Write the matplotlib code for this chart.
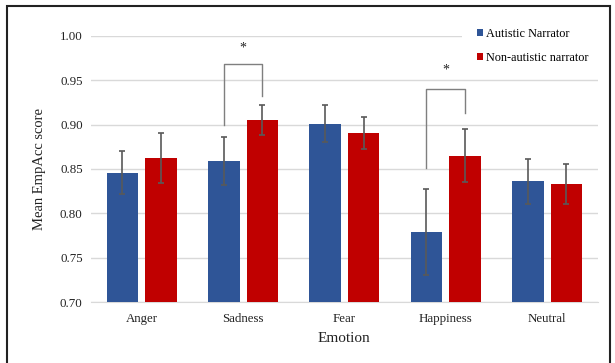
import matplotlib
matplotlib.use("Agg")
import matplotlib.pyplot as plt
import numpy as np
from matplotlib.patches import Rectangle

plt.rcParams['font.family'] = ['Liberation Serif', 'DejaVu Serif']

# categories and values
emotions = ['Anger', 'Sadness', 'Fear', 'Happiness', 'Neutral']
autistic = [0.846, 0.859, 0.901, 0.779, 0.836]
autistic_err = [0.024, 0.027, 0.021, 0.048, 0.025]
non_autistic = [0.862, 0.905, 0.891, 0.865, 0.833]
non_autistic_err = [0.028, 0.017, 0.018, 0.030, 0.023]

# significance brackets: (category index, left leg bottom, right leg bottom, top, star y)
brackets = [(1, 0.900, 0.932, 0.968, 0.986),
            (3, 0.851, 0.913, 0.940, 0.962)]

blue = '#2F5597'
red = '#C00000'

fig = plt.figure(figsize=(6.15, 3.63), dpi=100)
ax = fig.add_axes([0.148, 0.168, 0.824, 0.733])

x = np.arange(len(emotions))
width = 0.31
off = 0.19
ekw = dict(ecolor='#595959', elinewidth=1.2, capsize=2.5, capthick=1.2)
ax.bar(x - off, autistic, width, yerr=autistic_err, color=blue,
       label='Autistic Narrator', error_kw=ekw, zorder=3)
ax.bar(x + off, non_autistic, width, yerr=non_autistic_err, color=red,
       label='Non-autistic narrator', error_kw=ekw, zorder=3)

for i, yl, yr, top, ys in brackets:
    ax.plot([i - off, i - off, i + off, i + off], [yl, top, top, yr],
            color='#7f7f7f', lw=1.0, zorder=4)
    ax.text(i, ys, '*', ha='center', va='center', fontsize=10, color='#222222')

ax.set_ylim(0.70, 1.00)
ax.set_xlim(-0.5, 4.5)
ax.set_yticks(np.arange(0.70, 1.001, 0.05))
ax.set_yticklabels([f'{v:.2f}' for v in np.arange(0.70, 1.001, 0.05)])
ax.set_xticks(x)
ax.set_xticklabels(emotions)
ax.tick_params(length=0, labelsize=9.3, colors='#222222', pad=6)
ax.tick_params(axis='x', pad=8)
ax.grid(axis='y', color='#d9d9d9', lw=1, zorder=0)
for s in ['top', 'right', 'left']:
    ax.spines[s].set_visible(False)
ax.spines['bottom'].set_color('#d9d9d9')

ax.set_ylabel('Mean EmpAcc score', fontsize=10.5, color='#222222', labelpad=10)
ax.set_xlabel('Emotion', fontsize=11, color='#222222', labelpad=5)

leg = ax.legend(loc='upper left', bbox_to_anchor=(0.732, 1.085, 0.282, 0), mode='expand',
                frameon=True, fontsize=8.8, handlelength=0.55, handleheight=0.55,
                handletextpad=0.25, labelspacing=0.95, borderaxespad=0, borderpad=1.2)
leg.get_frame().set_facecolor('white')
leg.get_frame().set_edgecolor('none')
leg.get_frame().set_alpha(1)
leg.set_zorder(5)

fig.patches.append(Rectangle((0.011, -0.02), 0.981, 1.003, transform=fig.transFigure,
                             fill=False, edgecolor='#222222', lw=1.5))

fig.savefig('out.png', dpi=100)
